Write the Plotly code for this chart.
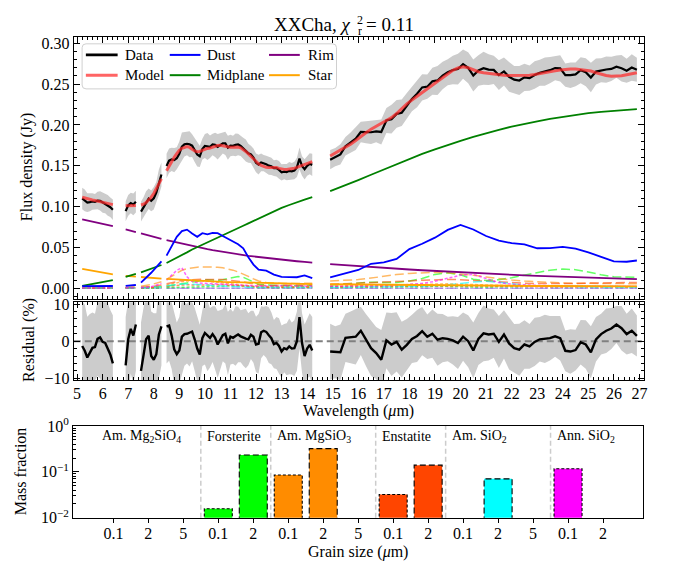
import plotly.graph_objects as go

W, H = 679, 573
FONT = "Liberation Serif"

XLIM = (4.87, 27.16)
FLUX_LIM = (-0.013, 0.308)
RES_LIM = (-10.5, 10.5)
BAR_XLIM = (-1.15, 15.15)

# ---------------------------------------------------------------------------
# Spectrum: wavelength chunks (start, stop, step) in micron
spec_chunks = [(5.2, 6.4, 0.1), (6.9, 7.3, 0.1), (7.5, 8.3, 0.1),
               (8.5, 14.2, 0.1), (14.9, 26.9, 0.2)]

# best-fit model flux (Jy) on the spectrum grid
model_flux = [
    [0.1115, 0.1105, 0.1098, 0.1090, 0.1082, 0.1075, 0.1068, 0.1060, 0.1052, 0.1045, 0.1037, 0.1030, 0.1024],
    [0.1010, 0.1010, 0.1010, 0.1012, 0.1015],
    [0.1020, 0.1030, 0.1050, 0.1080, 0.1115, 0.1160, 0.1215, 0.1275, 0.1340],
    [0.1440, 0.1500, 0.1555, 0.1605, 0.1650, 0.1690, 0.1715, 0.1730, 0.1735, 0.1725,
     0.1702, 0.1682, 0.1672, 0.1676, 0.1690, 0.1705, 0.1713, 0.1718, 0.1728, 0.1740,
     0.1748, 0.1750, 0.1747, 0.1740, 0.1732, 0.1727, 0.1729, 0.1732, 0.1730, 0.1720,
     0.1700, 0.1675, 0.1645, 0.1612, 0.1580, 0.1550, 0.1525, 0.1505, 0.1490, 0.1481,
     0.1478, 0.1481, 0.1484, 0.1478, 0.1468, 0.1460, 0.1456, 0.1455, 0.1458, 0.1462,
     0.1470, 0.1480, 0.1492, 0.1505, 0.1518, 0.1530, 0.1540, 0.1550],
    [0.1620, 0.1655, 0.1690, 0.1725, 0.1765, 0.1810, 0.1862, 0.1905, 0.1948, 0.1985,
     0.2015, 0.2050, 0.2090, 0.2140, 0.2200, 0.2258, 0.2305, 0.2350, 0.2395, 0.2440,
     0.2485, 0.2535, 0.2585, 0.2630, 0.2668, 0.2698, 0.2713, 0.2700, 0.2672, 0.2652,
     0.2640, 0.2630, 0.2622, 0.2615, 0.2608, 0.2605, 0.2604, 0.2604, 0.2606, 0.2610,
     0.2617, 0.2626, 0.2638, 0.2650, 0.2662, 0.2672, 0.2680, 0.2685, 0.2684, 0.2678,
     0.2670, 0.2660, 0.2640, 0.2620, 0.2606, 0.2598, 0.2597, 0.2603, 0.2615, 0.2630,
     0.2640],
]

# residual (data - model) in percent
residual_pct = [
    [-1.3, -2.6, -4.4, -3.2, -1.8, -1.6, 0.6, 1.0, -0.2, -0.5, -2.2, -3.6, -6.0],
    [-6.5, 0.5, 3.3, 1.5, 4.5],
    [-8.0, -3.5, 0.5, 1.5, -4.0, -5.0, -3.5, 1.8, 4.0],
    [4.0, 4.2, 1.5, -2.2, -3.5, -2.5, 1.2, 1.9, 2.0, 2.2,
     2.6, 0.5, -2.0, -3.6, 0.8, 2.2, 1.4, 0.9, 1.9, 0.9,
     -0.9, 0.4, 1.6, 2.0, -0.6, 1.2, 0.9, 1.4, 1.8, 1.3,
     0.9, 0.7, 0.5, 1.7, 1.2, -0.9, -0.7, 2.4, 2.8, 2.5,
     1.6, 0.8, -0.8, -0.5, -1.3, -2.8, -1.9, -2.2, -1.4, -2.0,
     -1.9, 0.0, 6.5, -0.5, -4.0, -2.0, -1.0, -2.5],
    [-2.8, -3.0, -3.0, 0.9, 1.0, 1.2, 2.8, 0.3, -1.9, -3.2,
     -5.0, 0.2, -0.9, -0.2, -2.3, -1.0, 0.6, 1.4, 2.7, 1.2,
     2.0, 0.4, 0.8, 0.6, 0.2, -0.5, 1.2, 0.0, -2.5, 0.6,
     2.1, 1.8, 2.0, -0.2, 1.8, -0.6, -1.9, -2.3, -0.9, -1.4,
     -0.2, 0.5, 0.6, 0.8, 1.3, 0.8, -2.6, -2.8, -2.4, -0.3,
     -0.9, -3.0, 0.5, 1.9, 2.8, 3.4, 4.5, 3.5, 1.9, 2.8,
     1.4],
]

# relative flux uncertainty in percent
error_pct = [
    [12.0, 12.5, 11.0, 10.5, 9.5, 9.0, 10.0, 11.0, 12.0, 11.5, 12.5, 12.0, 13.0],
    [13.0, 12.5, 12.0, 13.0, 12.5],
    [13.0, 12.0, 12.5, 11.5, 12.0, 12.5, 11.0, 12.0, 10.5],
    [10.0, 9.5, 9.0, 9.5, 8.5, 9.0, 10.0, 8.5, 8.0, 9.0,
     8.0, 8.5, 9.0, 8.0, 7.5, 8.5, 9.5, 8.0, 7.5, 8.5,
     9.0, 8.0, 7.0, 8.0, 8.5, 7.5, 7.0, 8.0, 7.5, 7.0,
     7.5, 8.0, 7.0, 6.5, 7.0, 7.5, 8.0, 7.0, 6.5, 7.0,
     7.5, 7.0, 6.5, 7.0, 7.5, 7.0, 6.5, 7.0, 7.5, 7.0,
     7.5, 8.0, 8.5, 8.0, 8.5, 8.0, 8.5, 9.0],
    [7.5, 7.0, 7.5, 6.5, 7.0, 7.5, 6.5, 7.0, 7.5, 7.0,
     8.0, 7.5, 8.5, 8.0, 7.5, 7.0, 6.5, 7.0, 6.5, 6.0,
     6.5, 7.0, 6.5, 6.0, 6.5, 7.0, 6.5, 7.0, 7.5, 7.0,
     7.5, 7.0, 6.5, 7.0, 6.5, 7.0, 6.5, 7.0, 6.5, 6.0,
     6.5, 6.0, 6.5, 6.0, 5.5, 6.0, 5.5, 6.0, 5.5, 6.0,
     6.5, 7.0, 6.0, 5.5, 6.0, 5.5, 5.0, 6.0, 5.5, 6.0,
     5.5],
]

# ---------------------------------------------------------------------------
# Model components, sampled on a coarser grid (same chunks)
comp_wave = [
    [5.2, 5.6, 6.0, 6.4],
    [6.9, 7.3],
    [7.5, 7.9, 8.3],
    [8.5, 8.7, 8.9, 9.1, 9.3, 9.5, 9.7, 9.9, 10.1, 10.3, 10.5, 10.7, 10.9,
     11.1, 11.3, 11.5, 11.7, 11.9, 12.1, 12.4, 12.7, 13.0, 13.3, 13.6, 13.9, 14.2],
    [14.9, 15.5, 16.0, 16.5, 17.0, 17.5, 18.0, 18.5, 19.0, 19.5, 20.0, 20.5, 21.0,
     21.5, 22.0, 22.5, 23.0, 23.5, 24.0, 24.5, 25.0, 25.5, 26.0, 26.5, 26.9],
]

dust_flux = [
    [0.0027, 0.0027, 0.0027, 0.0028],
    [0.0030, 0.0040],
    [0.0070, 0.0190, 0.0330],
    [0.0400, 0.0520, 0.0630, 0.0700, 0.0718, 0.0670, 0.0630, 0.0675, 0.0660, 0.0678,
     0.0675, 0.0640, 0.0610, 0.0578, 0.0540, 0.0490, 0.0380, 0.0290, 0.0228, 0.0215,
     0.0168, 0.0140, 0.0133, 0.0135, 0.0158, 0.0125],
    [0.0134, 0.0180, 0.0224, 0.0300, 0.0318, 0.0360, 0.0480, 0.0545, 0.0620, 0.0715,
     0.0775, 0.0720, 0.0640, 0.0585, 0.0552, 0.0538, 0.0490, 0.0492, 0.0508, 0.0485,
     0.0440, 0.0385, 0.0330, 0.0325, 0.0340],
]

midplane_flux = [
    [0.0028, 0.0050, 0.0075, 0.0100],
    [0.0140, 0.0175],
    [0.0195, 0.0237, 0.0285],
    [0.0310, 0.0340, 0.0370, 0.0400, 0.0440, 0.0475, 0.0505, 0.0535, 0.0565, 0.0595,
     0.0625, 0.0650, 0.0680, 0.0710, 0.0735, 0.0765, 0.0795, 0.0825, 0.0855, 0.0900,
     0.0945, 0.0985, 0.1020, 0.1055, 0.1085, 0.1115],
    [0.1190, 0.1260, 0.1325, 0.1390, 0.1455, 0.1520, 0.1585, 0.1645, 0.1700, 0.1755,
     0.1805, 0.1855, 0.1900, 0.1940, 0.1980, 0.2015, 0.2045, 0.2075, 0.2100, 0.2125,
     0.2145, 0.2160, 0.2175, 0.2185, 0.2195],
]

rim_flux = [
    [0.0845, 0.0818, 0.0790, 0.0762],
    [0.0720, 0.0688],
    [0.0672, 0.0640, 0.0605],
    [0.0590, 0.0575, 0.0560, 0.0545, 0.0530, 0.0515, 0.0502, 0.0490, 0.0478, 0.0466,
     0.0455, 0.0445, 0.0435, 0.0425, 0.0416, 0.0407, 0.0398, 0.0390, 0.0382, 0.0371,
     0.0360, 0.0350, 0.0340, 0.0331, 0.0322, 0.0314],
    [0.0296, 0.0282, 0.0270, 0.0260, 0.0250, 0.0240, 0.0230, 0.0221, 0.0212, 0.0204,
     0.0196, 0.0188, 0.0180, 0.0172, 0.0165, 0.0158, 0.0152, 0.0146, 0.0140, 0.0135,
     0.0130, 0.0125, 0.0120, 0.0116, 0.0113],
]

star_flux = [
    [0.0237, 0.0212, 0.0190, 0.0170],
    [0.0153, 0.0143],
    [0.0138, 0.0128, 0.0119],
    [0.0115, 0.0111, 0.0107, 0.0103, 0.0099, 0.0095, 0.0092, 0.0089, 0.0086, 0.0083,
     0.0081, 0.0078, 0.0076, 0.0074, 0.0072, 0.0070, 0.0068, 0.0067, 0.0065, 0.0063,
     0.0061, 0.0059, 0.0057, 0.0055, 0.0054, 0.0052],
    [0.0049, 0.0047, 0.0045, 0.0043, 0.0041, 0.0040, 0.0038, 0.0037, 0.0036, 0.0035,
     0.0034, 0.0033, 0.0032, 0.0031, 0.0030, 0.0029, 0.0028, 0.0028, 0.0027, 0.0026,
     0.0026, 0.0025, 0.0025, 0.0024, 0.0024],
]

# individual dust species contributions (Jy)
mg2sio4_flux = [
    [0.0, 0.0, 0.0, 0.0],
    [0.0, 0.0],
    [0.0, 0.0, 0.0],
    [0.0] * 26,
    [0.0] * 25,
]

forst01_flux = [
    [0.0002, 0.0002, 0.0002, 0.0002],
    [0.0002, 0.0003],
    [0.0003, 0.0004, 0.0005],
    [0.0007, 0.0009, 0.0011, 0.0013, 0.0015, 0.0016, 0.0017, 0.0019, 0.0022, 0.0020,
     0.0019, 0.0021, 0.0024, 0.0028, 0.0030, 0.0027, 0.0020, 0.0014, 0.0010, 0.0008,
     0.0007, 0.0007, 0.0007, 0.0007, 0.0008, 0.0008],
    [0.0009, 0.0010, 0.0012, 0.0013, 0.0012, 0.0013, 0.0016, 0.0020, 0.0025, 0.0027,
     0.0022, 0.0016, 0.0014, 0.0015, 0.0018, 0.0022, 0.0026, 0.0029, 0.0030, 0.0028,
     0.0024, 0.0020, 0.0018, 0.0017, 0.0017],
]

forst2_flux = [
    [0.0005, 0.0005, 0.0005, 0.0006],
    [0.0007, 0.0008],
    [0.0009, 0.0012, 0.0018],
    [0.0025, 0.0035, 0.0045, 0.0055, 0.0065, 0.0070, 0.0080, 0.0095, 0.0105, 0.0100,
     0.0095, 0.0105, 0.0120, 0.0135, 0.0145, 0.0135, 0.0105, 0.0070, 0.0050, 0.0040,
     0.0035, 0.0030, 0.0030, 0.0030, 0.0032, 0.0035],
    [0.0040, 0.0050, 0.0065, 0.0075, 0.0070, 0.0072, 0.0090, 0.0120, 0.0170, 0.0190,
     0.0165, 0.0110, 0.0095, 0.0105, 0.0130, 0.0160, 0.0195, 0.0222, 0.0235, 0.0228,
     0.0200, 0.0165, 0.0140, 0.0133, 0.0133],
]

mgsio301_flux = [
    [0.0003, 0.0003, 0.0003, 0.0004],
    [0.0005, 0.0006],
    [0.0007, 0.0010, 0.0025],
    [0.0040, 0.0055, 0.0070, 0.0080, 0.0088, 0.0090, 0.0090, 0.0088, 0.0085, 0.0080,
     0.0075, 0.0068, 0.0060, 0.0052, 0.0045, 0.0038, 0.0030, 0.0025, 0.0020, 0.0018,
     0.0017, 0.0017, 0.0018, 0.0019, 0.0020, 0.0022],
    [0.0026, 0.0030, 0.0034, 0.0038, 0.0042, 0.0046, 0.0050, 0.0053, 0.0055, 0.0054,
     0.0050, 0.0044, 0.0038, 0.0032, 0.0028, 0.0025, 0.0022, 0.0020, 0.0019, 0.0018,
     0.0017, 0.0017, 0.0016, 0.0016, 0.0016],
]

mgsio32_flux = [
    [0.0008, 0.0008, 0.0009, 0.0010],
    [0.0012, 0.0018],
    [0.0025, 0.0045, 0.0080],
    [0.0110, 0.0150, 0.0190, 0.0220, 0.0240, 0.0252, 0.0258, 0.0262, 0.0263, 0.0262,
     0.0258, 0.0250, 0.0238, 0.0222, 0.0200, 0.0175, 0.0145, 0.0115, 0.0090, 0.0070,
     0.0062, 0.0058, 0.0057, 0.0058, 0.0060, 0.0063],
    [0.0090, 0.0098, 0.0106, 0.0125, 0.0150, 0.0168, 0.0182, 0.0192, 0.0195, 0.0190,
     0.0178, 0.0160, 0.0138, 0.0118, 0.0100, 0.0088, 0.0078, 0.0070, 0.0065, 0.0062,
     0.0060, 0.0058, 0.0057, 0.0056, 0.0056],
]

enst01_flux = [
    [0.0002, 0.0002, 0.0002, 0.0002],
    [0.0003, 0.0003],
    [0.0004, 0.0008, 0.0015],
    [0.0022, 0.0030, 0.0036, 0.0040, 0.0042, 0.0040, 0.0038, 0.0038, 0.0040, 0.0042,
     0.0044, 0.0042, 0.0038, 0.0034, 0.0030, 0.0025, 0.0020, 0.0016, 0.0013, 0.0012,
     0.0012, 0.0012, 0.0013, 0.0014, 0.0015, 0.0016],
    [0.0018, 0.0020, 0.0022, 0.0024, 0.0026, 0.0028, 0.0030, 0.0032, 0.0034, 0.0035,
     0.0033, 0.0029, 0.0026, 0.0023, 0.0021, 0.0019, 0.0018, 0.0017, 0.0017, 0.0018,
     0.0019, 0.0020, 0.0021, 0.0021, 0.0022],
]

enst2_flux = [
    [0.0004, 0.0004, 0.0005, 0.0005],
    [0.0006, 0.0008],
    [0.0010, 0.0020, 0.0040],
    [0.0055, 0.0070, 0.0085, 0.0095, 0.0100, 0.0105, 0.0108, 0.0110, 0.0108, 0.0110,
     0.0112, 0.0108, 0.0100, 0.0095, 0.0090, 0.0080, 0.0065, 0.0050, 0.0040, 0.0035,
     0.0035, 0.0035, 0.0036, 0.0038, 0.0040, 0.0042],
    [0.0048, 0.0055, 0.0060, 0.0065, 0.0070, 0.0080, 0.0090, 0.0098, 0.0105, 0.0108,
     0.0105, 0.0095, 0.0085, 0.0075, 0.0068, 0.0062, 0.0058, 0.0055, 0.0055, 0.0058,
     0.0063, 0.0066, 0.0068, 0.0070, 0.0072],
]

amsio22_flux = [
    [0.0003, 0.0003, 0.0003, 0.0003],
    [0.0004, 0.0005],
    [0.0006, 0.0008, 0.0020],
    [0.0030, 0.0040, 0.0048, 0.0052, 0.0052, 0.0050, 0.0046, 0.0042, 0.0038, 0.0034,
     0.0030, 0.0026, 0.0022, 0.0019, 0.0016, 0.0014, 0.0013, 0.0013, 0.0014, 0.0018,
     0.0020, 0.0017, 0.0014, 0.0013, 0.0012, 0.0012],
    [0.0012, 0.0013, 0.0014, 0.0015, 0.0017, 0.0019, 0.0022, 0.0026, 0.0032, 0.0042,
     0.0058, 0.0078, 0.0085, 0.0075, 0.0052, 0.0035, 0.0026, 0.0021, 0.0018, 0.0016,
     0.0015, 0.0014, 0.0013, 0.0013, 0.0013],
]

annsio201_flux = [
    [0.0004, 0.0004, 0.0004, 0.0005],
    [0.0006, 0.0008],
    [0.0009, 0.0018, 0.0060],
    [0.0100, 0.0160, 0.0220, 0.0252, 0.0140, 0.0085, 0.0068, 0.0062, 0.0058, 0.0055,
     0.0052, 0.0048, 0.0045, 0.0042, 0.0040, 0.0037, 0.0033, 0.0030, 0.0028, 0.0030,
     0.0035, 0.0033, 0.0030, 0.0028, 0.0027, 0.0026],
    [0.0025, 0.0025, 0.0026, 0.0028, 0.0030, 0.0035, 0.0045, 0.0060, 0.0085, 0.0120,
     0.0160, 0.0170, 0.0120, 0.0070, 0.0050, 0.0040, 0.0035, 0.0032, 0.0030, 0.0028,
     0.0026, 0.0025, 0.0024, 0.0023, 0.0023],
]

# ---------------------------------------------------------------------------
# Mass fractions per species and grain size
grain_labels = ["0.1", "2", "5", "0.1", "2", "0.1", "2", "5",
                "0.1", "2", "0.1", "2", "5", "0.1", "2"]
mass_fraction = [None, None, None, 0.0156, 0.233, 0.085, 0.321, None,
                 0.0321, 0.140, None, 0.0703, None, 0.117, None]
species_names = ["Am. Mg<sub>2</sub>SiO<sub>4</sub>", "Forsterite",
                 "Am. MgSiO<sub>3</sub>", "Enstatite",
                 "Am. SiO<sub>2</sub>", "Ann. SiO<sub>2</sub>"]
species_sizes = [3, 2, 3, 2, 3, 2]
species_colors = ["mediumpurple", "lime", "darkorange", "orangered", "cyan", "magenta"]

# ---------------------------------------------------------------------------
SHORT_DASH = "3px,2px"
LONG_DASH = "9px,4px"


def grid(start, stop, step):
    n = int(round((stop - start) / step)) + 1
    return [round(start + k * step, 2) for k in range(n)]


def join(chunks):
    out = []
    for i, c in enumerate(chunks):
        if i:
            out.append(None)
        out.extend(c)
    return out


spec_wave = [grid(*c) for c in spec_chunks]
data_flux = [[m * (1 + r / 100.0) for m, r in zip(mc, rc)]
             for mc, rc in zip(model_flux, residual_pct)]

fig = go.Figure()

# uncertainty envelopes
for w, d, e, r in zip(spec_wave, data_flux, error_pct, residual_pct):
    up = [v * (1 + ee / 100.0) for v, ee in zip(d, e)]
    lo = [v * (1 - ee / 100.0) for v, ee in zip(d, e)]
    fig.add_trace(go.Scatter(x=w + w[::-1], y=up + lo[::-1], fill="toself",
                             fillcolor="#cccccc", line=dict(width=0), mode="lines",
                             hoverinfo="skip", xaxis="x", yaxis="y"))
    rup = [a + b for a, b in zip(r, e)]
    rlo = [a - b for a, b in zip(r, e)]
    fig.add_trace(go.Scatter(x=w + w[::-1], y=rup + rlo[::-1], fill="toself",
                             fillcolor="#cccccc", line=dict(width=0), mode="lines",
                             hoverinfo="skip", xaxis="x2", yaxis="y2"))

cw = join(comp_wave)

# dust species
species_lines = [
    (mg2sio4_flux, "mediumpurple", LONG_DASH),
    (mg2sio4_flux, "mediumpurple", SHORT_DASH),
    (forst01_flux, "lime", SHORT_DASH),
    (forst2_flux, "lime", LONG_DASH),
    (mgsio301_flux, "darkorange", SHORT_DASH),
    (mgsio32_flux, "darkorange", LONG_DASH),
    (enst01_flux, "orangered", SHORT_DASH),
    (enst2_flux, "orangered", LONG_DASH),
    (amsio22_flux, "cyan", LONG_DASH),
    (annsio201_flux, "magenta", SHORT_DASH),
]
for vals, col, dash in species_lines:
    fig.add_trace(go.Scatter(x=cw, y=join(vals), mode="lines", opacity=0.6,
                             line=dict(color=col, width=1.5, dash=dash),
                             hoverinfo="skip", xaxis="x", yaxis="y"))

# main components
for vals, col in [(star_flux, "orange"), (rim_flux, "purple"),
                  (midplane_flux, "green"), (dust_flux, "blue")]:
    fig.add_trace(go.Scatter(x=cw, y=join(vals), mode="lines",
                             line=dict(color=col, width=1.8),
                             hoverinfo="skip", xaxis="x", yaxis="y"))

sw = join(spec_wave)
fig.add_trace(go.Scatter(x=sw, y=join(data_flux), mode="lines",
                         line=dict(color="black", width=2.2),
                         xaxis="x", yaxis="y"))
fig.add_trace(go.Scatter(x=sw, y=join(model_flux), mode="lines",
                         line=dict(color="rgba(255,40,40,0.72)", width=3),
                         xaxis="x", yaxis="y"))

# residual panel
fig.add_trace(go.Scatter(x=list(XLIM), y=[0, 0], mode="lines",
                         line=dict(color="gray", width=2, dash="7px,4px"),
                         xaxis="x2", yaxis="y2"))
fig.add_trace(go.Scatter(x=sw, y=join(residual_pct), mode="lines",
                         line=dict(color="black", width=2.4),
                         xaxis="x2", yaxis="y2"))

# mass fraction bars
bar_colors = []
bar_dash = []
for col, n in zip(species_colors, species_sizes):
    bar_colors += [col] * n
for lab in grain_labels:
    bar_dash.append(SHORT_DASH if lab == "0.1" else "6px,3px")
idx = list(range(len(grain_labels)))
fig.add_trace(go.Bar(x=idx, y=mass_fraction, width=0.8,
                     marker=dict(color=bar_colors, line=dict(width=0)),
                     xaxis="x3", yaxis="y3"))
BAR_HALF = 0.4
for i, v in enumerate(mass_fraction):
    if v is None:
        continue
    fig.add_trace(go.Scatter(x=[i - BAR_HALF, i - BAR_HALF, i + BAR_HALF, i + BAR_HALF],
                             y=[0.005, v, v, 0.005], mode="lines",
                             line=dict(color="black", width=1.1, dash=bar_dash[i]),
                             xaxis="x3", yaxis="y3"))

# ---------------------------------------------------------------------------
def px(x):
    return x / W


def py(y):
    return 1 - y / H


tickfont = dict(family=FONT, size=16, color="black")
frame = dict(showline=True, linecolor="black", linewidth=1, showgrid=False,
             zeroline=False, tickcolor="black", tickwidth=1, tickfont=tickfont)
xtop = dict(range=list(XLIM), tick0=5, dtick=1, ticks="inside", ticklen=6,
            mirror="allticks",
            minor=dict(ticks="inside", ticklen=3, tick0=5, dtick=0.2, tickcolor="black"))

XD = [px(73.3), px(647.3)]
shapes = []
annotations = []

# group separators and labels in the mass-fraction panel
start = -0.5
for k, n in enumerate(species_sizes):
    if k:
        shapes.append(dict(type="line", xref="x3", yref="y3 domain", x0=start, x1=start,
                           y0=0, y1=1, line=dict(color="#cccccc", width=1.5, dash="5px,3px"),
                           layer="below"))
    annotations.append(dict(text=species_names[k], xref="x3", yref="y3 domain",
                            x=start + 0.12, y=0.885, xanchor="left", yanchor="middle",
                            showarrow=False, font=dict(family=FONT, size=14, color="black")))
    start += n

# legend
lx0, lx1, ly0, ly1, rr = px(81.7), px(338), py(80.7), py(34), 4
rx, ry = rr / W, rr / H
shapes.append(dict(
    type="path", xref="paper", yref="paper", layer="above",
    path=(f"M {lx0+rx},{ly1} L {lx1-rx},{ly1} Q {lx1},{ly1} {lx1},{ly1-ry} "
          f"L {lx1},{ly0+ry} Q {lx1},{ly0} {lx1-rx},{ly0} L {lx0+rx},{ly0} "
          f"Q {lx0},{ly0} {lx0},{ly0+ry} L {lx0},{ly1-ry} Q {lx0},{ly1} {lx0+rx},{ly1} Z"),
    line=dict(color="#d0d0d0", width=1), fillcolor="rgba(255,255,255,0.8)"))
legend_items = [("Data", "black", 2.8, 0, 0), ("Model", "rgba(255,40,40,0.72)", 3, 0, 1),
                ("Dust", "blue", 2, 1, 0), ("Midplane", "green", 2, 1, 1),
                ("Rim", "purple", 2, 2, 0), ("Star", "orange", 2, 2, 1)]
col_line = [(85.5, 117.5), (170, 201), (270, 301)]
col_text = [123, 206, 307]
row_y = [45.5, 66.5]
for name, col, lw, c, r in legend_items:
    shapes.append(dict(type="line", xref="paper", yref="paper", layer="above",
                       x0=px(col_line[c][0]), x1=px(col_line[c][1]),
                       y0=py(row_y[r]), y1=py(row_y[r]), line=dict(color=col, width=lw)))
    annotations.append(dict(text=name, xref="paper", yref="paper", x=px(col_text[c]),
                            y=py(row_y[r]), xanchor="left", yanchor="middle", showarrow=False,
                            font=dict(family=FONT, size=15, color="black")))

# title with stacked sub/superscript
tfont = dict(family=FONT, size=19, color="black")
sfont = dict(family=FONT, size=12, color="black")
annotations += [
    dict(text="XXCha, <i>χ</i>", xref="paper", yref="paper", x=px(355), y=py(13.5),
         xanchor="right", yanchor="middle", showarrow=False, font=tfont),
    dict(text="2", xref="paper", yref="paper", x=px(357), y=py(9.5), height=10,
         xanchor="left", yanchor="middle", showarrow=False, font=sfont),
    dict(text="r", xref="paper", yref="paper", x=px(357.5), y=py(21), height=10,
         xanchor="left", yanchor="middle", showarrow=False, font=sfont),
    dict(text="= 0.11", xref="paper", yref="paper", x=px(366), y=py(13.5),
         xanchor="left", yanchor="middle", showarrow=False, font=tfont),
]

# axis titles
afont = dict(family=FONT, size=16, color="black")
for text, x, y, ang in [("Flux density (Jy)", 27, 162, -90), ("Residual (%)", 28, 341, -90),
                        ("Mass fraction", 19, 477, -90),
                        ("Wavelength (<i>μ</i>m)", 360, 414, 0),
                        ("Grain size (<i>μ</i>m)", 360, 561, 0)]:
    annotations.append(dict(text=text, xref="paper", yref="paper", x=px(x), y=py(y),
                            xanchor="center", yanchor="middle", textangle=ang,
                            showarrow=False, font=afont))

fig.update_layout(
    width=W, height=H, margin=dict(l=0, r=0, t=0, b=0),
    paper_bgcolor="white", plot_bgcolor="white", showlegend=False,
    font=dict(family=FONT, size=16, color="black"),
    xaxis=dict(domain=XD, anchor="y", showticklabels=False, **xtop, **frame),
    yaxis=dict(domain=[py(298.3), py(26.7)], anchor="x", range=list(FLUX_LIM),
               tick0=0, dtick=0.05, tickformat=".2f", ticks="inside", ticklen=6,
               mirror="allticks",
               minor=dict(ticks="inside", ticklen=3, tick0=0, dtick=0.01, tickcolor="black"),
               **frame),
    xaxis2=dict(domain=XD, anchor="y2", showticklabels=True, ticklabelstandoff=-1,
                **xtop, **frame),
    yaxis2=dict(domain=[py(382.5), py(301.7)], anchor="x2", range=list(RES_LIM),
                tickvals=[-10, 0, 10], ticks="inside", ticklen=6, mirror="allticks",
                minor=dict(ticks="inside", ticklen=3, tick0=0, dtick=2, tickcolor="black"),
                **frame),
    xaxis3=dict(domain=[px(72.7), px(647)], anchor="y3", range=list(BAR_XLIM),
                tickvals=idx, ticktext=grain_labels, ticks="outside", ticklen=4,
                ticklabelstandoff=-3, mirror=True, **frame),
    yaxis3=dict(domain=[py(525), py(430)], anchor="x3", type="log", range=[-2, 0],
                tickvals=[0.01, 0.1, 1],
                ticktext=["10<sup>−2</sup>", "10<sup>−1</sup>", "10<sup>0</sup>"],
                ticks="inside", ticklen=6, mirror=True,
                minor=dict(ticks="inside", ticklen=3, dtick="D1", tickcolor="black"),
                **frame),
    shapes=shapes, annotations=annotations, bargap=0.2,
)

fig.write_html("out.html")
